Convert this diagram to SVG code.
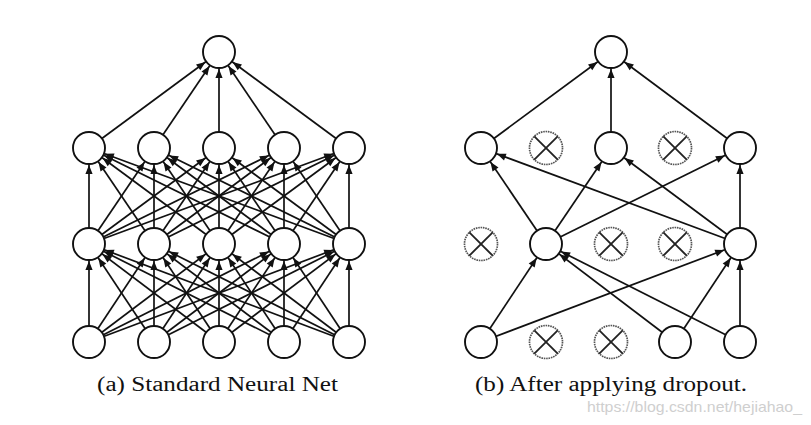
<svg xmlns="http://www.w3.org/2000/svg" width="811" height="425" viewBox="0 0 811 425">
<style>
.e{stroke:#111;stroke-width:1.7;fill:none;marker-end:url(#ah)}
.n{fill:#fff;stroke:#111;stroke-width:1.9}
.d{fill:#fff;stroke:#555;stroke-width:1.7;stroke-dasharray:1.6 0.8}
.x{stroke:#222;stroke-width:1.8}
.cap{font-family:"Liberation Serif","DejaVu Serif",serif;font-size:20px;fill:#111}
.wm{font-family:"Liberation Sans",Arial,sans-serif;font-size:15px;fill:#cfcfcf}
</style>
<defs>
<marker id="ah" markerUnits="userSpaceOnUse" orient="auto" markerWidth="30" markerHeight="10" refX="25.9" refY="0" overflow="visible">
<path d="M0,-3.6 L9,0 L0,3.6 z" fill="#111"/>
</marker>
<g id="dropX"><circle r="16.5" class="d"/><line x1="-11.7" y1="-11.7" x2="11.7" y2="11.7" class="x"/><line x1="-11.7" y1="11.7" x2="11.7" y2="-11.7" class="x"/></g>
</defs>
<rect width="811" height="425" fill="#fff"/>
<g id="connectors">
<line class="e" x1="89" y1="342" x2="89" y2="244"/><line class="e" x1="89" y1="342" x2="154" y2="244"/><line class="e" x1="89" y1="342" x2="219" y2="244"/><line class="e" x1="89" y1="342" x2="284" y2="244"/><line class="e" x1="89" y1="342" x2="349" y2="244"/>
<line class="e" x1="154" y1="342" x2="89" y2="244"/><line class="e" x1="154" y1="342" x2="154" y2="244"/><line class="e" x1="154" y1="342" x2="219" y2="244"/><line class="e" x1="154" y1="342" x2="284" y2="244"/><line class="e" x1="154" y1="342" x2="349" y2="244"/>
<line class="e" x1="219" y1="342" x2="89" y2="244"/><line class="e" x1="219" y1="342" x2="154" y2="244"/><line class="e" x1="219" y1="342" x2="219" y2="244"/><line class="e" x1="219" y1="342" x2="284" y2="244"/><line class="e" x1="219" y1="342" x2="349" y2="244"/>
<line class="e" x1="284" y1="342" x2="89" y2="244"/><line class="e" x1="284" y1="342" x2="154" y2="244"/><line class="e" x1="284" y1="342" x2="219" y2="244"/><line class="e" x1="284" y1="342" x2="284" y2="244"/><line class="e" x1="284" y1="342" x2="349" y2="244"/>
<line class="e" x1="349" y1="342" x2="89" y2="244"/><line class="e" x1="349" y1="342" x2="154" y2="244"/><line class="e" x1="349" y1="342" x2="219" y2="244"/><line class="e" x1="349" y1="342" x2="284" y2="244"/><line class="e" x1="349" y1="342" x2="349" y2="244"/>
<line class="e" x1="89" y1="244" x2="89" y2="148"/><line class="e" x1="89" y1="244" x2="154" y2="148"/><line class="e" x1="89" y1="244" x2="219" y2="148"/><line class="e" x1="89" y1="244" x2="284" y2="148"/><line class="e" x1="89" y1="244" x2="349" y2="148"/>
<line class="e" x1="154" y1="244" x2="89" y2="148"/><line class="e" x1="154" y1="244" x2="154" y2="148"/><line class="e" x1="154" y1="244" x2="219" y2="148"/><line class="e" x1="154" y1="244" x2="284" y2="148"/><line class="e" x1="154" y1="244" x2="349" y2="148"/>
<line class="e" x1="219" y1="244" x2="89" y2="148"/><line class="e" x1="219" y1="244" x2="154" y2="148"/><line class="e" x1="219" y1="244" x2="219" y2="148"/><line class="e" x1="219" y1="244" x2="284" y2="148"/><line class="e" x1="219" y1="244" x2="349" y2="148"/>
<line class="e" x1="284" y1="244" x2="89" y2="148"/><line class="e" x1="284" y1="244" x2="154" y2="148"/><line class="e" x1="284" y1="244" x2="219" y2="148"/><line class="e" x1="284" y1="244" x2="284" y2="148"/><line class="e" x1="284" y1="244" x2="349" y2="148"/>
<line class="e" x1="349" y1="244" x2="89" y2="148"/><line class="e" x1="349" y1="244" x2="154" y2="148"/><line class="e" x1="349" y1="244" x2="219" y2="148"/><line class="e" x1="349" y1="244" x2="284" y2="148"/><line class="e" x1="349" y1="244" x2="349" y2="148"/>
<line class="e" x1="89" y1="148" x2="219" y2="52"/><line class="e" x1="154" y1="148" x2="219" y2="52"/><line class="e" x1="219" y1="148" x2="219" y2="52"/><line class="e" x1="284" y1="148" x2="219" y2="52"/><line class="e" x1="349" y1="148" x2="219" y2="52"/>
<line class="e" x1="481" y1="342" x2="546" y2="244"/><line class="e" x1="481" y1="342" x2="740" y2="244"/>
<line class="e" x1="675" y1="342" x2="546" y2="244"/><line class="e" x1="675" y1="342" x2="740" y2="244"/>
<line class="e" x1="740" y1="342" x2="546" y2="244"/><line class="e" x1="740" y1="342" x2="740" y2="244"/>
<line class="e" x1="546" y1="244" x2="481" y2="148"/><line class="e" x1="546" y1="244" x2="611" y2="148"/><line class="e" x1="546" y1="244" x2="740" y2="148"/>
<line class="e" x1="740" y1="244" x2="481" y2="148"/><line class="e" x1="740" y1="244" x2="611" y2="148"/><line class="e" x1="740" y1="244" x2="740" y2="148"/>
<line class="e" x1="481" y1="148" x2="611" y2="52"/><line class="e" x1="611" y1="148" x2="611" y2="52"/><line class="e" x1="740" y1="148" x2="611" y2="52"/>
</g>
<g id="left-net">
<g id="a-out"><circle class="n" cx="219" cy="52" r="16"/></g>
<g id="a-h2-1"><circle class="n" cx="89" cy="148" r="16"/></g>
<g id="a-h2-2"><circle class="n" cx="154" cy="148" r="16"/></g>
<g id="a-h2-3"><circle class="n" cx="219" cy="148" r="16"/></g>
<g id="a-h2-4"><circle class="n" cx="284" cy="148" r="16"/></g>
<g id="a-h2-5"><circle class="n" cx="349" cy="148" r="16"/></g>
<g id="a-h1-1"><circle class="n" cx="89" cy="244" r="16"/></g>
<g id="a-h1-2"><circle class="n" cx="154" cy="244" r="16"/></g>
<g id="a-h1-3"><circle class="n" cx="219" cy="244" r="16"/></g>
<g id="a-h1-4"><circle class="n" cx="284" cy="244" r="16"/></g>
<g id="a-h1-5"><circle class="n" cx="349" cy="244" r="16"/></g>
<g id="a-in-1"><circle class="n" cx="89" cy="342" r="16"/></g>
<g id="a-in-2"><circle class="n" cx="154" cy="342" r="16"/></g>
<g id="a-in-3"><circle class="n" cx="219" cy="342" r="16"/></g>
<g id="a-in-4"><circle class="n" cx="284" cy="342" r="16"/></g>
<g id="a-in-5"><circle class="n" cx="349" cy="342" r="16"/></g>
</g>
<g id="right-net">
<g id="b-out"><circle class="n" cx="611" cy="52" r="16"/></g>
<g id="b-h2-1"><circle class="n" cx="481" cy="148" r="16"/></g>
<g id="b-h2-2"><use href="#dropX" x="546" y="148"/></g>
<g id="b-h2-3"><circle class="n" cx="611" cy="148" r="16"/></g>
<g id="b-h2-4"><use href="#dropX" x="675" y="148"/></g>
<g id="b-h2-5"><circle class="n" cx="740" cy="148" r="16"/></g>
<g id="b-h1-1"><use href="#dropX" x="481" y="244"/></g>
<g id="b-h1-2"><circle class="n" cx="546" cy="244" r="16"/></g>
<g id="b-h1-3"><use href="#dropX" x="611" y="244"/></g>
<g id="b-h1-4"><use href="#dropX" x="675" y="244"/></g>
<g id="b-h1-5"><circle class="n" cx="740" cy="244" r="16"/></g>
<g id="b-in-1"><circle class="n" cx="481" cy="342" r="16"/></g>
<g id="b-in-2"><use href="#dropX" x="546" y="342"/></g>
<g id="b-in-3"><use href="#dropX" x="611" y="342"/></g>
<g id="b-in-4"><circle class="n" cx="675" cy="342" r="16"/></g>
<g id="b-in-5"><circle class="n" cx="740" cy="342" r="16"/></g>
</g>
<g id="captions">
<text class="cap" x="97" y="391" textLength="241" lengthAdjust="spacingAndGlyphs">(a) Standard Neural Net</text>
<text class="cap" x="475" y="391" textLength="272" lengthAdjust="spacingAndGlyphs">(b) After applying dropout.</text>
<text class="wm" x="587" y="412" textLength="215" lengthAdjust="spacingAndGlyphs">https://blog.csdn.net/hejiahao_</text>
</g>
</svg>
